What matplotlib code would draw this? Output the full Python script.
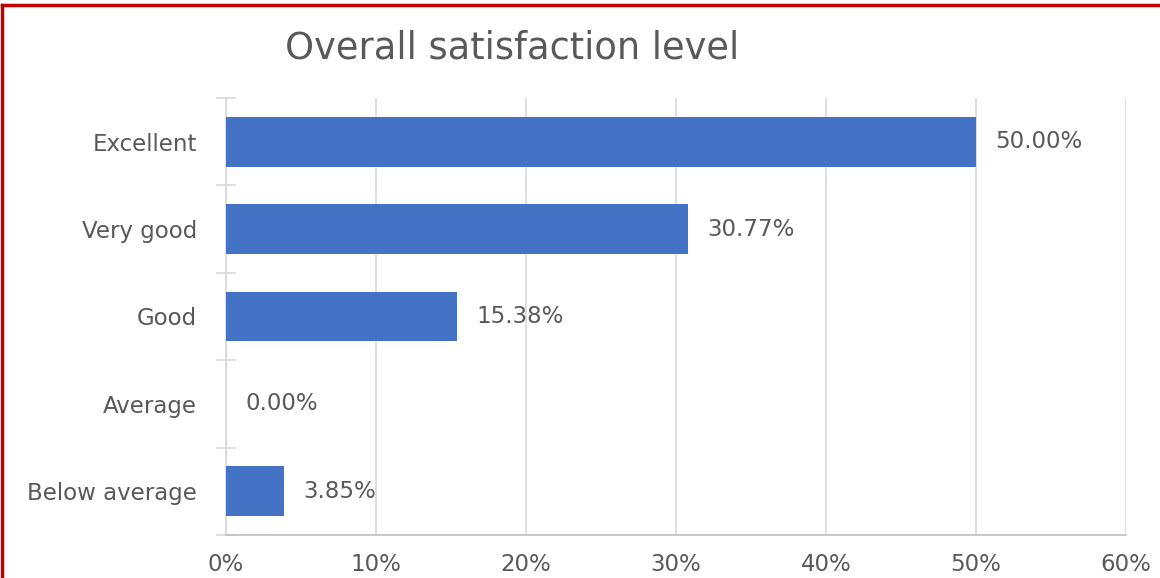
import matplotlib.pyplot as plt
from matplotlib.lines import Line2D
from matplotlib.ticker import FuncFormatter

# datos
categorias = ['Below average', 'Average', 'Good', 'Very good', 'Excellent']
valores = [3.85, 0.00, 15.38, 30.77, 50.00]
ticks_x = [0, 10, 20, 30, 40, 50, 60]

W, H = 1160, 578
fig = plt.figure(figsize=(W / 100, H / 100), dpi=100)
plt.rcParams['font.family'] = ['DejaVu Sans']

# area del grafico en pixeles
x0, x1, y0, y1 = 226, 1126, 98, 535
ax = fig.add_axes([x0 / W, 1 - y1 / H, (x1 - x0) / W, (y1 - y0) / H])

gris_txt = '#595959'
gris_grid = '#d9d9d9'
fs = 16.5

ypos = range(len(categorias))
ax.barh(ypos, valores, height=0.57, color='#4472C4', zorder=3)
ax.set_xlim(0, 60)
ax.set_ylim(-0.5, len(categorias) - 0.5)

for y, v in zip(ypos, valores):
    ax.text(v + 1.3, y, f'{v:.2f}%', va='center', ha='left',
            fontsize=fs, color=gris_txt)

ax.set_xticks(ticks_x)
ax.xaxis.set_major_formatter(FuncFormatter(lambda v, p: f'{v:.0f}%'))
ax.tick_params(axis='x', length=0, pad=13, labelsize=fs, labelcolor=gris_txt)
ax.grid(axis='x', color=gris_grid, linewidth=1.2, zorder=0)

ax.set_yticks(list(ypos))
ax.set_yticklabels(categorias)
ax.tick_params(axis='y', length=0, pad=21, labelsize=fs, labelcolor=gris_txt)
# marcas entre categorias
ax.set_yticks([i - 0.5 for i in range(len(categorias) + 1)], minor=True)
ax.tick_params(axis='y', which='minor', direction='inout', length=14,
               width=1.2, color=gris_grid)

for s in ['top', 'right']:
    ax.spines[s].set_visible(False)
ax.spines['left'].set_color(gris_grid)
ax.spines['left'].set_linewidth(1.2)
ax.spines['bottom'].set_color('#bfbfbf')
ax.spines['bottom'].set_linewidth(1.2)

fig.text(512 / W, 1 - 48 / H, 'Overall satisfaction level', ha='center',
         va='center', fontsize=26.5, color=gris_txt)

# borde rojo
fig.add_artist(Line2D([2 / W, 2 / W], [0, 1 - 5 / H], color='#c00000', linewidth=2.5))
fig.add_artist(Line2D([2 / W, 1], [1 - 5 / H, 1 - 5 / H], color='#c00000', linewidth=2.5))

plt.savefig('out.png', dpi=100)
